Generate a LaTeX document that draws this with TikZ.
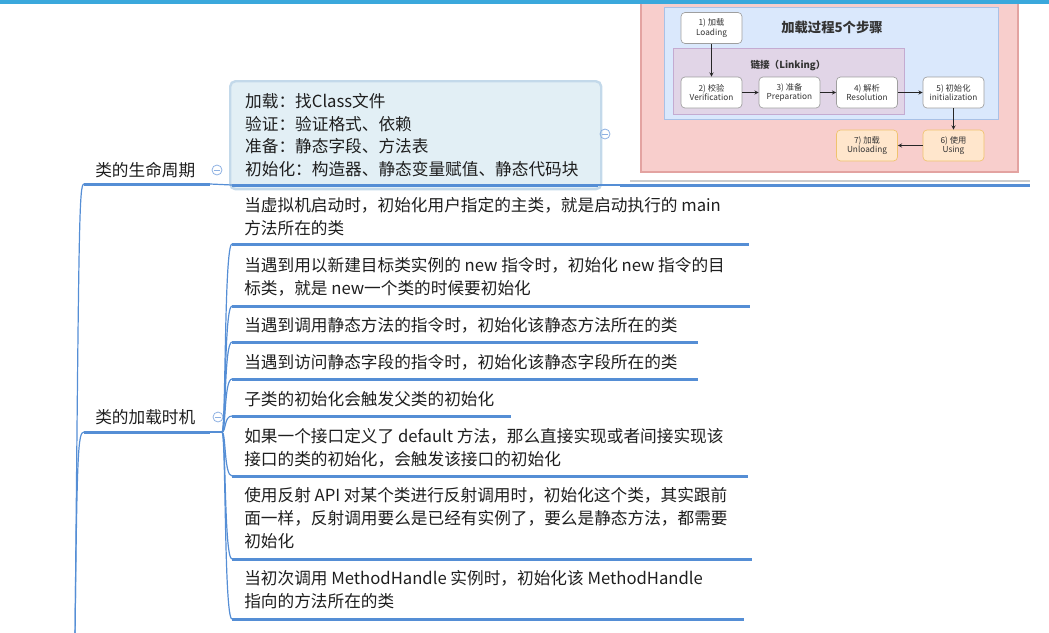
\documentclass[tikz,border=0pt]{standalone}
\usepackage{fontspec}
\setmainfont{Noto Sans CJK SC}

\definecolor{barblue}{HTML}{3AA8DC}
\definecolor{mapblue}{HTML}{558ED5}
\definecolor{foldblue}{HTML}{8EB1E2}
\definecolor{notefill}{HTML}{E2EFF5}
\definecolor{noteline}{HTML}{C3D9EA}
\definecolor{pinkfill}{HTML}{F8CECC}
\definecolor{pinkline}{HTML}{E3A3A1}
\definecolor{bluefill}{HTML}{DAE8FC}
\definecolor{blueline}{HTML}{A9C1E6}
\definecolor{purplefill}{HTML}{E1D5E7}
\definecolor{purpleline}{HTML}{C4ABD1}
\definecolor{orangefill}{HTML}{FFE6CC}
\definecolor{orangeline}{HTML}{F0C36E}
\definecolor{inktext}{HTML}{1E1E1E}

\begin{document}
\begin{tikzpicture}[x=0.75pt,y=-0.75pt,
    branch/.style={line width=2.25pt,draw=mapblue},
    link/.style={line width=0.9pt,draw=mapblue},
    topic/.style={anchor=north west,inner sep=0pt,align=left,text=inktext,
        font=\fontsize{12.5}{17.25}\selectfont},
    fold/.style={circle,draw=foldblue,line width=0.6pt,minimum size=7.5pt,inner sep=0pt,
        path picture={\draw[foldblue,line width=0.6pt]
            ([xshift=-2pt]path picture bounding box.center) -- ([xshift=2pt]path picture bounding box.center);}},
    stepbox/.style={rectangle,rounded corners=3pt,draw=gray!75,fill=white,line width=0.5pt,
        minimum width=45.75pt,minimum height=23.25pt,align=center,inner sep=0pt,
        text=black!80,font=\fontsize{6.2}{7.2}\selectfont},
    usebox/.style={stepbox,draw=orangeline,fill=orangefill},
    flow/.style={->,>=stealth,line width=0.45pt,black!85}]
    \useasboundingbox (0,0) rectangle (1049,632);

    % picture of the five steps
    \draw[fill=pinkfill,draw=pinkline,line width=0.8pt] (641,-2) rectangle (1018,172);
    \draw[fill=bluefill,draw=blueline,line width=0.6pt] (664,7) rectangle (998,119);
    \draw[fill=purplefill,draw=purpleline,line width=0.6pt] (673,48) rectangle (904,114);
    \node[font=\fontsize{10}{12}\selectfont\bfseries,text=black!80] (title) at (832,27) {加载过程5个步骤};
    \node[font=\fontsize{7.2}{9}\selectfont\bfseries,text=black!80] (linking) at (788,66) {链接（Linking）};

    \node[stepbox] (load) at (711.5,28) {1) 加载\\Loading};
    \node[stepbox] (verify) at (711.5,92.5) {2) 校验\\Verification};
    \node[stepbox] (prepare) at (789.5,92.5) {3) 准备\\Preparation};
    \node[stepbox] (resolve) at (867,92.5) {4) 解析\\Resolution};
    \node[stepbox] (init) at (953.5,92.5) {5) 初始化\\initialization};
    \node[usebox] (using) at (953.5,145.5) {6) 使用\\Using};
    \node[usebox] (unload) at (867,145.5) {7) 加载\\Unloading};

    \draw[flow] (load) -- (verify);
    \draw[flow] (verify) -- (prepare);
    \draw[flow] (prepare) -- (resolve);
    \draw[flow] (resolve) -- (init);
    \draw[flow] (init) -- (using);
    \draw[flow] (using) -- (unload);

    \fill[barblue] (0,0) rectangle (1049,3.5);
    \draw[gray!40,line width=0.8pt] (630,181) -- (1030,181);

    % trunk and the two branches
    \coordinate (root) at (75,640);
    \coordinate (b1s) at (84,184);
    \coordinate (b1e) at (210,184);
    \coordinate (b2s) at (84,432);
    \coordinate (b2e) at (210,432);
    \coordinate (hub) at (222,432);
    \draw[link] (root) .. controls (79,220) and (79,184) .. (b1s);
    \draw[link] (root) .. controls (77,450) and (78,432) .. (b2s);
    \draw[branch] (b1s) -- (b1e);
    \draw[branch] (b2s) -- (b2e);
    \draw[link] (b2e) -- (hub);

    \node[anchor=west,inner sep=0pt,text=inktext,font=\fontsize{12.5}{15}\selectfont] (life) at (95,170) {类的生命周期};
    \node[anchor=west,inner sep=0pt,text=inktext,font=\fontsize{12.5}{15}\selectfont] (when) at (95,417) {类的加载时机};
    \node[fold] (fold1) at (217,170) {};
    \node[fold] (fold2) at (218,417) {};

    % note of the life cycle
    \node[anchor=north west,rounded corners=4pt,fill=notefill,draw=noteline,line width=1.8pt,
        minimum width=278.25pt,minimum height=81pt,text width=255.75pt,inner xsep=11.25pt,
        align=left,text=inktext,font=\fontsize{12.5}{17}\selectfont] (note) at (229,80)
        {加载：找Class文件\\验证：验证格式、依赖\\准备：静态字段、方法表\\初始化：构造器、静态变量赋值、静态代码块};
    \node[fold] (fold3) at (605,134) {};
    \coordinate (n1s) at (232,185);
    \coordinate (n1e) at (598,185);
    \coordinate (p1s) at (620,185);
    \coordinate (p1e) at (1030,185);
    \draw[link] (b1e) -- (n1s);
    \draw[branch] (n1s) -- (n1e);
    \draw[link] (n1e) -- (p1s);
    \draw[branch] (p1s) -- (p1e);

    % the loading moments
    \node[topic] (item1) at (244,197) {当虚拟机启动时，初始化用户指定的主类，就是启动执行的 main\\方法所在的类};
    \node[topic] (item2) at (244,257) {当遇到用以新建目标类实例的 new 指令时，初始化 new 指令的目\\标类，就是 new一个类的时候要初始化};
    \node[topic] (item3) at (244,317) {当遇到调用静态方法的指令时，初始化该静态方法所在的类};
    \node[topic] (item4) at (244,354) {当遇到访问静态字段的指令时，初始化该静态字段所在的类};
    \node[topic] (item5) at (244,391) {子类的初始化会触发父类的初始化};
    \node[topic] (item6) at (244,428) {如果一个接口定义了 default 方法，那么直接实现或者间接实现该\\接口的类的初始化，会触发该接口的初始化};
    \node[topic] (item7) at (244,487) {使用反射 API 对某个类进行反射调用时，初始化这个类，其实跟前\\面一样，反射调用要么是已经有实例了，要么是静态方法，都需要\\初始化};
    \node[topic] (item8) at (244,570) {当初次调用 MethodHandle 实例时，初始化该 MethodHandle\\指向的方法所在的类};

    \coordinate (u1s) at (232,244); \coordinate (u1e) at (749,244);
    \coordinate (u2s) at (232,306); \coordinate (u2e) at (750,306);
    \coordinate (u3s) at (232,342); \coordinate (u3e) at (698,342);
    \coordinate (u4s) at (232,379); \coordinate (u4e) at (698,379);
    \coordinate (u5s) at (232,416); \coordinate (u5e) at (511,416);
    \coordinate (u6s) at (232,476); \coordinate (u6e) at (748,476);
    \coordinate (u7s) at (232,559); \coordinate (u7e) at (752,559);
    \coordinate (u8s) at (232,619); \coordinate (u8e) at (744,619);

    \draw[link] (hub) .. controls (226,432) and (224,244) .. (u1s);
    \draw[link] (hub) .. controls (226,432) and (224,306) .. (u2s);
    \draw[link] (hub) .. controls (226,432) and (224,342) .. (u3s);
    \draw[link] (hub) .. controls (226,432) and (224,379) .. (u4s);
    \draw[link] (hub) .. controls (226,432) and (224,416) .. (u5s);
    \draw[link] (hub) .. controls (226,432) and (224,476) .. (u6s);
    \draw[link] (hub) .. controls (226,432) and (224,559) .. (u7s);
    \draw[link] (hub) .. controls (226,432) and (224,619) .. (u8s);

    \draw[branch] (u1s) -- (u1e);
    \draw[branch] (u2s) -- (u2e);
    \draw[branch] (u3s) -- (u3e);
    \draw[branch] (u4s) -- (u4e);
    \draw[branch] (u5s) -- (u5e);
    \draw[branch] (u6s) -- (u6e);
    \draw[branch] (u7s) -- (u7e);
    \draw[branch] (u8s) -- (u8e);
\end{tikzpicture}
\end{document}
